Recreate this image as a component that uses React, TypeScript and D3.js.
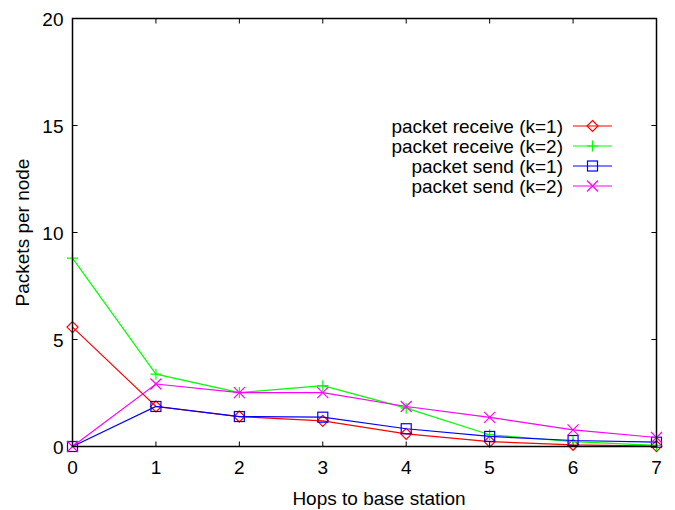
import { useEffect, useRef } from 'react';
import * as d3 from 'd3';

const hops = [0, 1, 2, 3, 4, 5, 6, 7];
const receiveK1 = [5.58, 1.87, 1.4, 1.2, 0.59, 0.23, 0.08, 0.02];
const receiveK2 = [8.8, 3.38, 2.52, 2.84, 1.79, 0.55, 0.23, 0.05];
const sendK1 = [0, 1.87, 1.4, 1.37, 0.83, 0.47, 0.28, 0.2];
const sendK2 = [0, 2.92, 2.52, 2.52, 1.87, 1.36, 0.78, 0.42];
const yTicks = [0, 5, 10, 15, 20];

const series = [
  { name: 'packet receive (k=1)', values: receiveK1, color: '#ff0000', marker: 'diamond' },
  { name: 'packet receive (k=2)', values: receiveK2, color: '#00ff00', marker: 'plus' },
  { name: 'packet send (k=1)', values: sendK1, color: '#0000ff', marker: 'square' },
  { name: 'packet send (k=2)', values: sendK2, color: '#ff00ff', marker: 'cross' },
];

const FONT = 'Liberation Sans, Arial, Helvetica, sans-serif';
const FS = '19px';

function drawMarker(g: any, type: string, x: number, y: number, color: string) {
  const s = 5.5;
  if (type === 'diamond') {
    g.append('path')
      .attr('d', `M${x},${y - s}L${x + s},${y}L${x},${y + s}L${x - s},${y}Z`)
      .attr('fill', 'none').attr('stroke', color).attr('stroke-width', 1.2);
  } else if (type === 'plus') {
    g.append('path')
      .attr('d', `M${x - s},${y}L${x + s},${y}M${x},${y - s}L${x},${y + s}`)
      .attr('stroke', color).attr('stroke-width', 1.2);
  } else if (type === 'square') {
    g.append('rect')
      .attr('x', x - 5).attr('y', y - 5).attr('width', 10).attr('height', 10)
      .attr('fill', 'none').attr('stroke', color).attr('stroke-width', 1.2);
  } else {
    g.append('path')
      .attr('d', `M${x - s},${y - s}L${x + s},${y + s}M${x - s},${y + s}L${x + s},${y - s}`)
      .attr('stroke', color).attr('stroke-width', 1.2);
  }
}

export default function App() {
  const svgRef = useRef<SVGSVGElement>(null);

  useEffect(() => {
    if (!svgRef.current) return;
    const svg = d3.select(svgRef.current);
    svg.selectAll('*').remove();

    const left = 72.5;
    const right = 656.5;
    const top = 18.5;
    const bottom = 446.5;

    const x = d3.scaleLinear().domain([0, 7]).range([left, right]);
    const y = d3.scaleLinear().domain([0, 20]).range([bottom, top]);

    const tick = 5;

    // ticks (mirrored like gnuplot)
    const axes = svg.append('g').attr('stroke', '#000').attr('stroke-width', 1);
    hops.forEach((h) => {
      axes.append('line').attr('x1', x(h)).attr('x2', x(h)).attr('y1', bottom).attr('y2', bottom - tick);
      axes.append('line').attr('x1', x(h)).attr('x2', x(h)).attr('y1', top).attr('y2', top + tick);
    });
    yTicks.forEach((v) => {
      axes.append('line').attr('x1', left).attr('x2', left + tick).attr('y1', y(v)).attr('y2', y(v));
      axes.append('line').attr('x1', right).attr('x2', right - tick).attr('y1', y(v)).attr('y2', y(v));
    });

    // tick labels
    svg.append('g')
      .selectAll('text')
      .data(hops)
      .join('text')
      .attr('x', (d) => x(d))
      .attr('y', 474)
      .attr('text-anchor', 'middle')
      .attr('font-family', FONT)
      .attr('font-size', FS)
      .text((d) => d);

    svg.append('g')
      .selectAll('text')
      .data(yTicks)
      .join('text')
      .attr('x', left - 9)
      .attr('y', (d) => y(d) + 7)
      .attr('text-anchor', 'end')
      .attr('font-family', FONT)
      .attr('font-size', FS)
      .text((d) => d);

    // axis titles
    svg.append('text')
      .attr('x', 379)
      .attr('y', 505)
      .attr('text-anchor', 'middle')
      .attr('font-family', FONT)
      .attr('font-size', FS)
      .text('Hops to base station');

    svg.append('text')
      .attr('transform', `translate(29,${(top + bottom) / 2}) rotate(-90)`)
      .attr('text-anchor', 'middle')
      .attr('font-family', FONT)
      .attr('font-size', FS)
      .text('Packets per node');

    // lines and markers
    const line = d3.line<number>()
      .x((_, i) => x(hops[i]))
      .y((d) => y(d));

    series.forEach((s) => {
      svg.append('path')
        .attr('d', line(s.values))
        .attr('fill', 'none')
        .attr('stroke', s.color)
        .attr('stroke-width', 1.2);
      const mg = svg.append('g');
      s.values.forEach((v, i) => drawMarker(mg, s.marker, x(hops[i]), y(v), s.color));
    });

    // legend
    const lg = svg.append('g');
    series.forEach((s, i) => {
      const ly = 126 + i * 20;
      lg.append('text')
        .attr('x', 563)
        .attr('y', ly + 7)
        .attr('text-anchor', 'end')
        .attr('font-family', FONT)
        .attr('font-size', FS)
        .text(s.name);
      lg.append('line')
        .attr('x1', 573).attr('x2', 612)
        .attr('y1', ly).attr('y2', ly)
        .attr('stroke', s.color).attr('stroke-width', 1.2);
      drawMarker(lg, s.marker, 592.5, ly, s.color);
    });

    // border
    svg.append('rect')
      .attr('x', left).attr('y', top)
      .attr('width', right - left).attr('height', bottom - top)
      .attr('fill', 'none').attr('stroke', '#000').attr('stroke-width', 1.5);
  }, []);

  return (
    <svg
      ref={svgRef}
      width={675}
      height={510}
      style={{ position: 'absolute', left: 0, top: 0, background: '#fff' }}
    />
  );
}
